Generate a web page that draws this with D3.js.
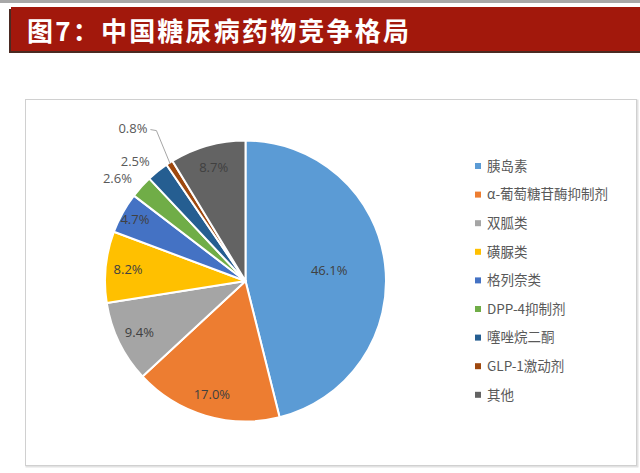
<!DOCTYPE html>
<html><head><meta charset="utf-8">
<script src="https://cdn.jsdelivr.net/npm/d3@7"></script>
<style>
html,body{margin:0;padding:0;background:#fff;}
svg{display:block;}
</style></head>
<body>
<svg id="c" width="640" height="473"></svg>
<script>
const title = "图7：中国糖尿病药物竞争格局";
const categories = ["胰岛素","α-葡萄糖苷酶抑制剂","双胍类","磺脲类","格列奈类","DPP-4抑制剂","噻唑烷二酮","GLP-1激动剂","其他"];
const values = [46.1, 17.0, 9.4, 8.2, 4.7, 2.6, 2.5, 0.8, 8.7];
const colors = ["#5B9BD5","#ED7D31","#A5A5A5","#FFC000","#4472C4","#70AD47","#255E91","#9E480E","#636363"];

const svg = d3.select("#c");
const W = 640, H = 473;

// top gray line
svg.append("rect").attr("x",0).attr("y",0).attr("width",W).attr("height",3).attr("fill","#a8a8a8");
// banner shadow + banner
svg.append("rect").attr("x",9).attr("y",9).attr("width",W).attr("height",44).attr("fill","#4a2a22");
svg.append("rect").attr("x",11).attr("y",7).attr("width",W).attr("height",44).attr("fill","#A2180C");
svg.append("text").attr("x",27).attr("y",41)
  .attr("font-family","'Noto Sans CJK SC', sans-serif").attr("font-weight","bold")
  .attr("font-size",26).attr("letter-spacing",3).attr("fill","#fff")
  .attr("textLength",385).attr("lengthAdjust","spacing").text(title);

// chart frame
svg.append("rect").attr("x",26.5).attr("y",100.5).attr("width",611).attr("height",366)
  .attr("fill","none").attr("stroke","#e2e2e2").attr("stroke-width",2);
svg.append("rect").attr("x",25.5).attr("y",99.5).attr("width",611).attr("height",366)
  .attr("fill","#fff").attr("stroke","#d0d0d0").attr("stroke-width",1);

const cx = 245.5, cy = 281, R = 140.5;
const g = svg.append("g").attr("transform",`translate(${cx},${cy})`);
const pie = d3.pie().sort(null).value(d=>d)(values);
const arc = d3.arc().innerRadius(0).outerRadius(R);
g.selectAll("path").data(pie).enter().append("path")
  .attr("d",arc).attr("fill",(d,i)=>colors[i])
  .attr("stroke","#fff").attr("stroke-width",2).attr("stroke-linejoin","round");

const fmt = v => v.toFixed(1)+"%";
const font = "'Open Sans', 'Noto Sans CJK SC', sans-serif";
pie.forEach((d,i)=>{
  const v = values[i];
  const a = (d.startAngle+d.endAngle)/2;
  let rr, outside=false;
  if (v > 20) rr = 0.6*R;
  else if (v >= 3 && v < 5) rr = 0.9*R;
  else if (v >= 3) rr = 0.84*R;
  else if (v >= 1) { rr = 1.09*R; outside=true; }
  else { rr = 1.29*R; outside=true; }
  const x = Math.sin(a)*rr, y = -Math.cos(a)*rr;
  if (v < 1) {
    const x0 = Math.sin(a)*R*0.99, y0 = -Math.cos(a)*R*0.99;
    g.append("polyline")
      .attr("points",`${x+3},${y+1} ${x+9},${y+2} ${x0},${y0}`)
      .attr("fill","none").attr("stroke","#a6a6a6").attr("stroke-width",1);
  }
  g.append("text").attr("x",x).attr("y",y).attr("dy","0.35em")
    .attr("text-anchor", outside ? "end" : "middle").attr("font-family",font).attr("font-size",13)
    .attr("fill", outside ? "#595959" : "#404040").text(fmt(v));
});

// legend
const lg = svg.append("g");
categories.forEach((c,i)=>{
  const y = 166 + i*28.6;
  lg.append("rect").attr("x",475).attr("y",y-3).attr("width",6).attr("height",6).attr("fill",colors[i]);
  lg.append("text").attr("x",487).attr("y",y).attr("dy","0.35em")
    .attr("font-family","'Noto Sans CJK SC', sans-serif").attr("font-size",13.5)
    .attr("fill","#595959").text(c);
});
</script>
</body></html>
